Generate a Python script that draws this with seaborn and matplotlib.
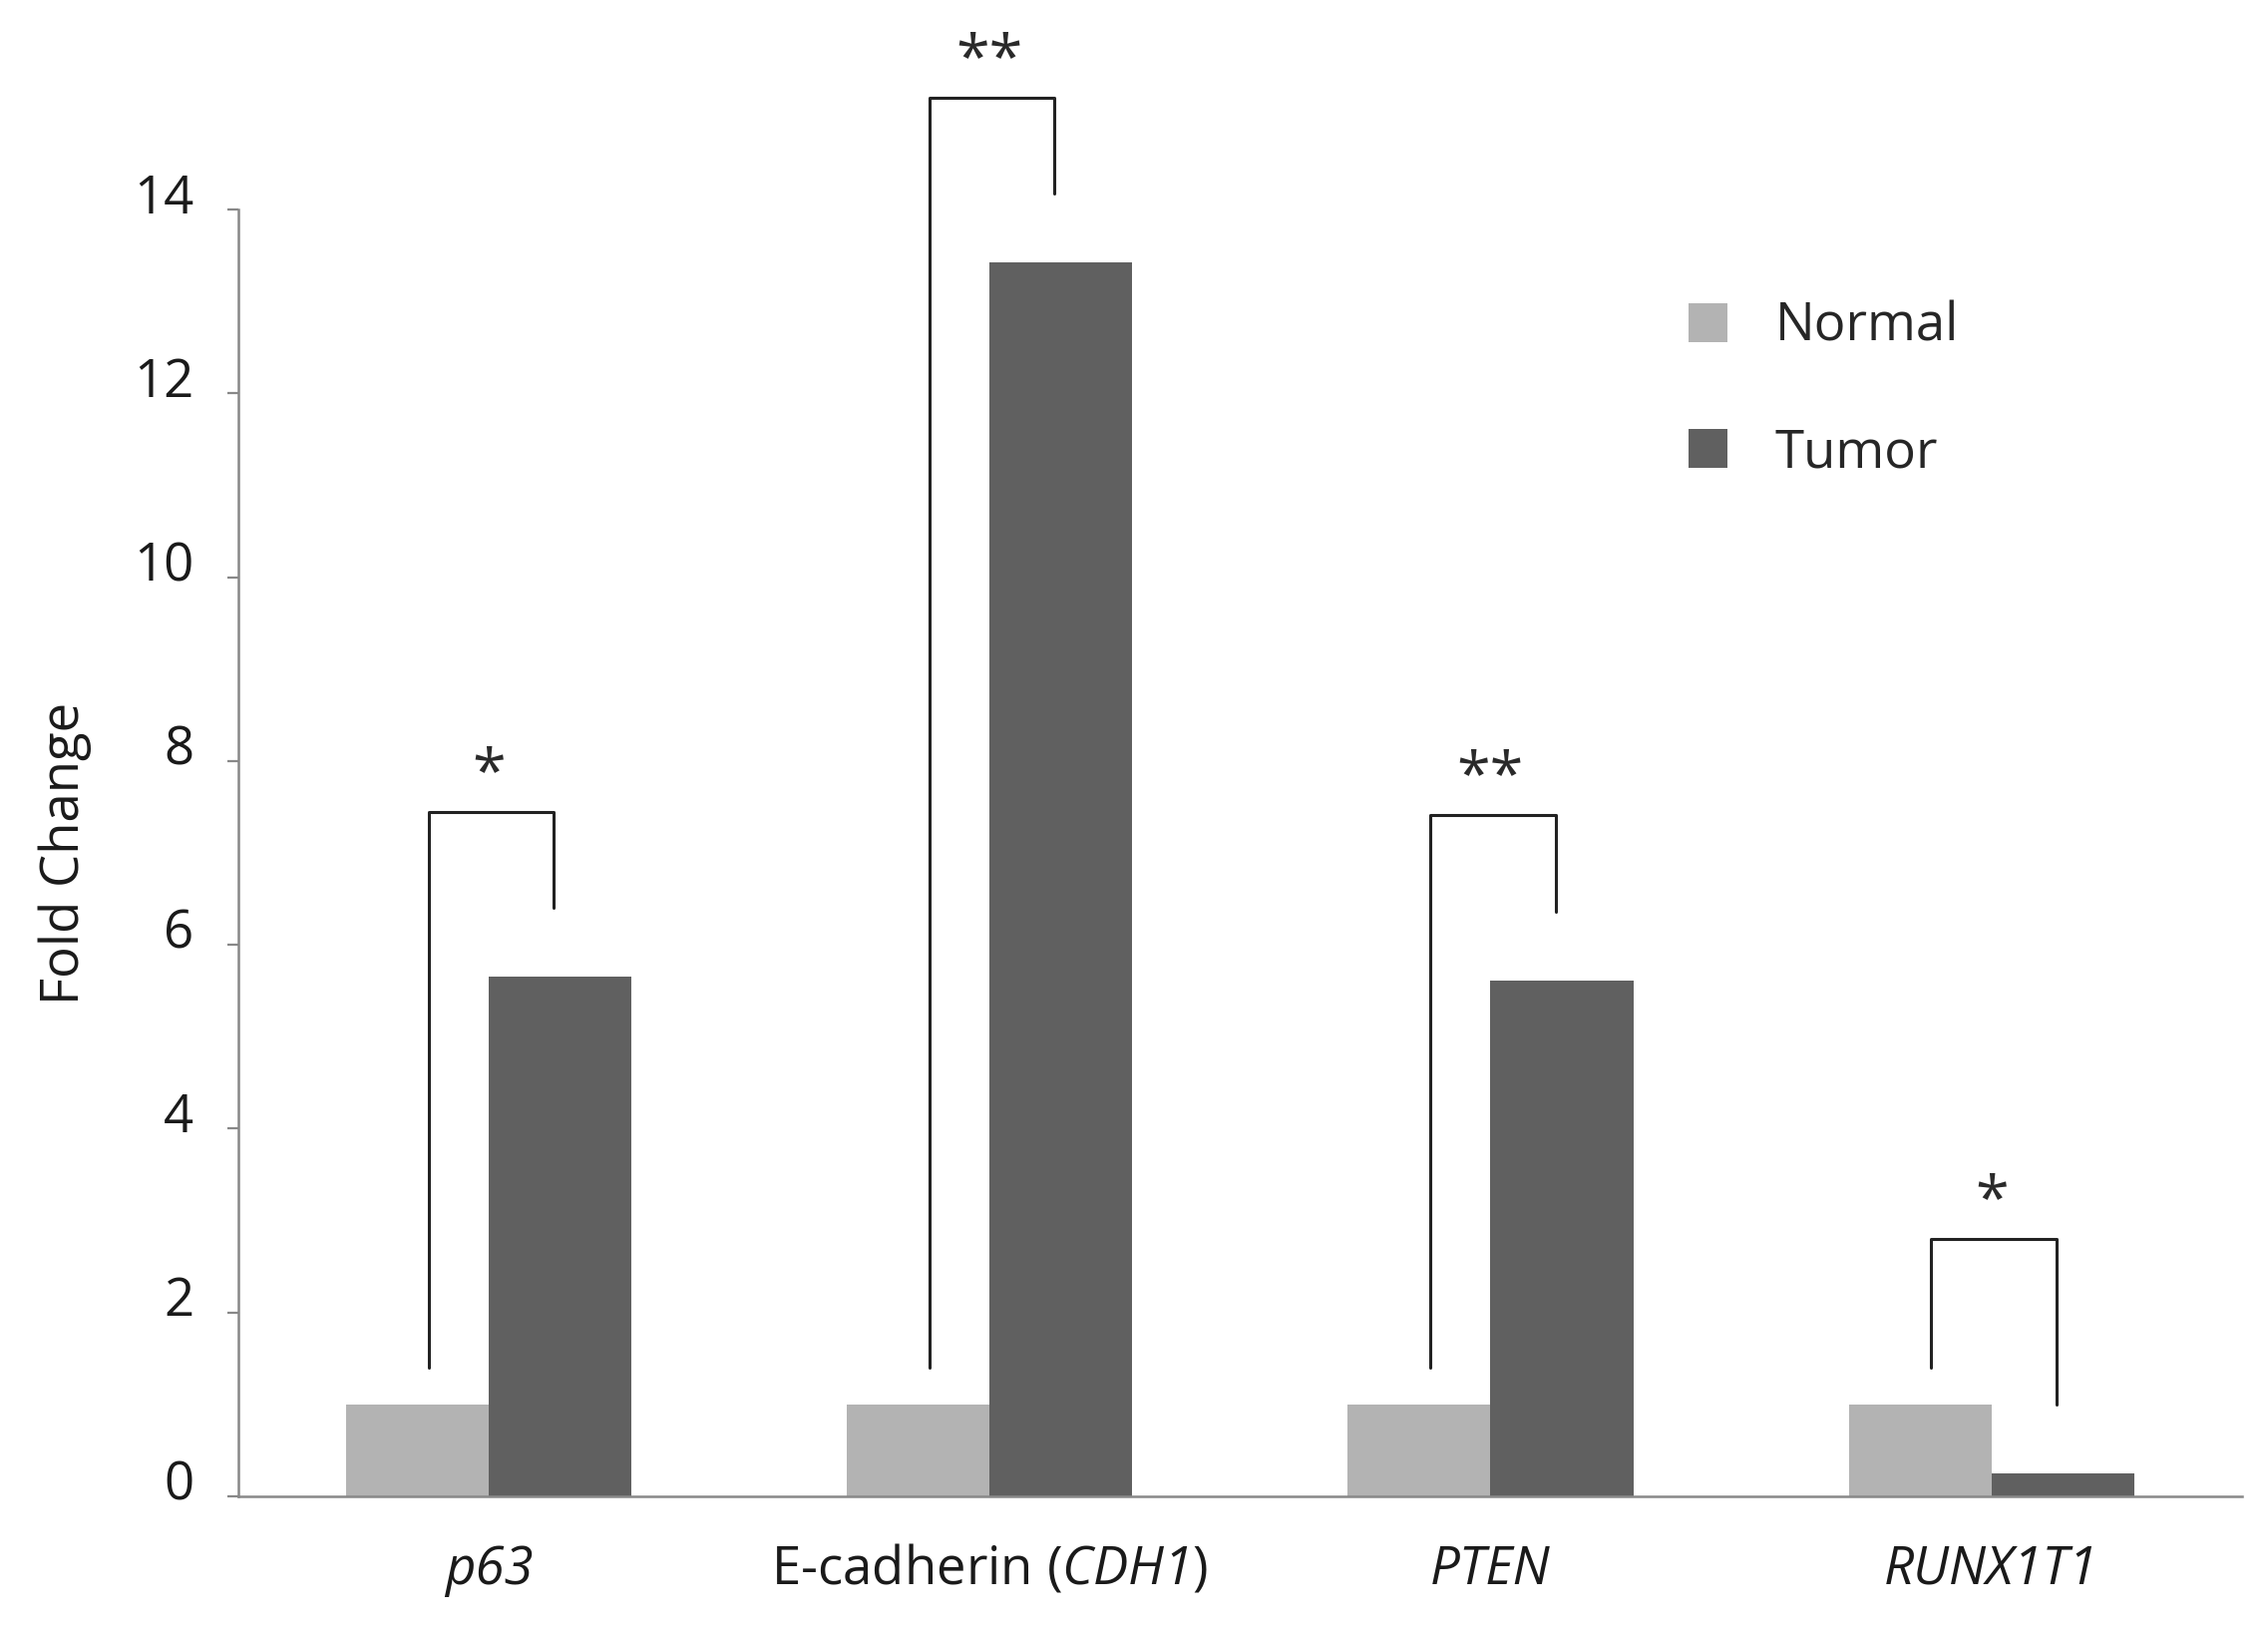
import numpy as np
import pandas as pd
import matplotlib
matplotlib.use('Agg')
import matplotlib.pyplot as plt
import matplotlib.transforms as mtransforms
from matplotlib.patches import Patch
import seaborn as sns

# data
genes = ['p63', 'E-cadherin (CDH1)', 'PTEN', 'RUNX1T1']
gene_labels = ['p63', 'E-cadherin ($\\mathrm{CDH1}$)', 'PTEN', 'RUNX1T1']
label_italic = [True, False, True, True]
normal = [1.0, 1.0, 1.0, 1.0]
tumor = [5.65, 13.42, 5.61, 0.25]
stars = ['*', '**', '**', '*']
groups = ['Normal', 'Tumor']
colors = ['#b3b3b3', '#606060']

df = pd.DataFrame({'gene': genes * 2,
                   'fold': normal + tumor,
                   'group': ['Normal'] * 4 + ['Tumor'] * 4})

sns.set_style('white')
plt.rcParams['font.family'] = ['Open Sans', 'DejaVu Sans']
# mathtext only used for the italic gene name inside the CDH1 label
plt.rcParams['mathtext.fontset'] = 'custom'
plt.rcParams['mathtext.rm'] = 'Open Sans:italic'
plt.rcParams['mathtext.it'] = 'Open Sans:italic'

fig = plt.figure(figsize=(11.37, 8.185), dpi=200)
ax = fig.add_axes([0.105, 0.0837, 0.8835, 0.788])

sns.barplot(data=df, x='gene', y='fold', hue='group', palette=colors,
            width=0.57, saturation=1, linewidth=0, ax=ax, legend=False)

ax.set_xlim(-0.5, 3.5)
ax.set_ylim(0, 14)
ax.set_yticks(np.arange(0, 15, 2))
ax.set_xticks(range(4))
ax.set_xticklabels(gene_labels, fontsize=19, color='#1a1a1a')
for lbl, it in zip(ax.get_xticklabels(), label_italic):
    if it:
        lbl.set_fontstyle('italic')
ax.set_xticks([-0.5, 0.5, 1.5, 2.5, 3.5], minor=True)
ax.tick_params(axis='x', which='major', length=0, pad=17)
ax.tick_params(axis='x', which='minor', length=5, width=0.8, color='#888888', direction='out')
ax.tick_params(axis='y', length=4, width=0.8, color='#888888', pad=12, labelsize=19,
               labelcolor='#1a1a1a', left=True)
# labels sit slightly above the ticks in the original
shift = mtransforms.ScaledTranslation(0, 6 / 72, fig.dpi_scale_trans)
for lbl in ax.get_yticklabels():
    lbl.set_transform(lbl.get_transform() + shift)

ax.set_xlabel('')
ax.set_ylabel('Fold Change', fontsize=19, color='#1a1a1a', labelpad=15)

for s in ['top', 'right']:
    ax.spines[s].set_visible(False)
for s in ['left', 'bottom']:
    ax.spines[s].set_color('#888888')
    ax.spines[s].set_linewidth(0.9)

# significance brackets
for i in range(len(genes)):
    xl, xr = i - 0.12, i + 0.13
    top = max(normal[i], tumor[i]) + 1.8
    ax.plot([xl, xl, xr, xr], [normal[i] + 0.4, top, top, tumor[i] + 0.75],
            color='#222222', lw=1.1, clip_on=False)
    ax.text(i, top + 0.4, stars[i], ha='center', va='center', fontsize=22,
            color='#2a2a2a', clip_on=False)

handles = [Patch(facecolor=c, edgecolor='none') for c in colors]
ax.legend(handles, groups, loc='upper left', bbox_to_anchor=(0.70, 0.966), frameon=False,
          fontsize=19, handlelength=0.75, handleheight=0.75, handletextpad=0.9,
          labelspacing=1.38)

fig.savefig('out.png', dpi=200)
